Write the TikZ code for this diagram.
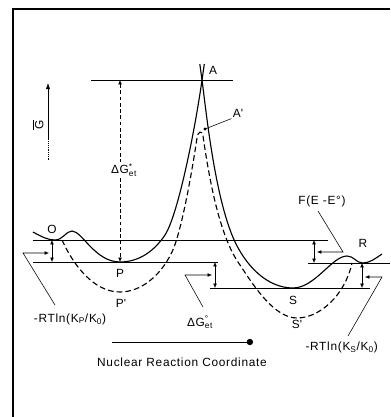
\documentclass[tikz,border=0pt]{standalone}
\usepackage{amsmath}
\usepackage{fontspec}
\setmainfont{Liberation Sans}[LetterSpace=6]
\usetikzlibrary{arrows.meta, positioning, calc}
\tikzset{
  curve/.style   = {line width=0.9pt},
  shifted/.style = {line width=0.9pt, dash pattern=on 4.5pt off 2.5pt},
  level/.style   = {line width=0.45pt},
  gap/.style     = {{Latex[length=3.5pt,width=3pt]}-{Latex[length=3.5pt,width=3pt]},
                    line width=0.45pt},
  pointer/.style = {-{Latex[length=3.5pt,width=3pt]}, line width=0.45pt},
  lbl/.style     = {font=\fontsize{9.5}{11}\selectfont, inner sep=1pt},
}

\begin{document}
\begin{tikzpicture}[x=0.8pt, y=-0.8pt]
  \useasboundingbox (0,0) rectangle (390,417);
  % frame
  \draw[line width=1.3pt] (13,417) -- (13,9) -- (390,9);

  % free energy axis
  \coordinate (g0) at (48,160);
  \coordinate (g1) at (48,138);
  \coordinate (g2) at (48,83);
  \draw[level, densely dotted] (g0) -- (g1);
  \draw[level, -{Latex[length=5pt,width=3.5pt]}] (g1) -- (g2);
  \node[lbl, rotate=90] (gbar) at (38,125) {$\overline{\text{G}}$};

  % energy levels
  \draw[level] (91,80)  coordinate (aL) -- (233,80)  coordinate (aR);
  \draw[level] (33,240) coordinate (oL) -- (328,240) coordinate (oR);
  \draw[level] (33,262) coordinate (pL) -- (218,262) coordinate (pR);
  \draw[level] (308,263) coordinate (rL) -- (390,263) coordinate (rR);
  \draw[level] (210,288) coordinate (sL) -- (370,288) coordinate (sR);

  % solid surface: O -> P -> A
  \draw[curve] (33,232) .. controls (42,237) and (48,240) .. (55,240)
    coordinate (O)
    .. controls (63,240) and (66,231) .. (72,231)
    .. controls (82,231) and (95,262) .. (120,262) coordinate (P)
    .. controls (140,262) and (155,250) .. (165,235)
    .. controls (178,215) and (195,130) .. (202,80) coordinate (A)
    -- (204.3,64);
  % solid surface: A -> S -> R
  \draw[curve] (199.8,64) -- (A)
    .. controls (206,110) and (214,190) .. (232,235)
    .. controls (245,267) and (268,288) .. (293,288) coordinate (S)
    .. controls (315,288) and (332,256) .. (347,256)
    .. controls (354,256) and (356,263) .. (363,263) coordinate (R)
    .. controls (370,263) and (376,258) .. (382,254);

  % shifted surface P' -> A' -> S'
  \draw[shifted] (62,240) .. controls (72,262) and (92,292) .. (120,292)
    coordinate (P')
    .. controls (140,292) and (160,277) .. (172,252)
    .. controls (182,231) and (193,165) .. (197,138)
    .. controls (198,131) and (202,130) .. (203,136) coordinate (A')
    .. controls (208,170) and (218,235) .. (240,265)
    .. controls (255,288) and (275,318) .. (297,318) coordinate (S')
    .. controls (320,318) and (345,295) .. (352,263);

  % point labels
  \node[lbl] (lO)  at (52,229)  {O};
  \node[lbl] (lP)  at (120,273) {P};
  \node[lbl] (lP') at (121,303) {P\textquotesingle};
  \node[lbl] (lS)  at (293,300) {S};
  \node[lbl] (lS') at (297,324) {S\textquotesingle};
  \node[lbl] (lR)  at (363,243) {R};
  \node[lbl] (lA)  at (213,70)  {A};
  \node[lbl] (lA') at (238,113) {A\textquotesingle};
  \fill (205,129) circle (1.6) coordinate (dot);
  \draw[level] (dot) -- (lA'.south west);

  % activation barrier
  \draw[gap, densely dashed] (120,80) -- (P);
  \node[lbl, fill=white] (dGa) at (124,170)
    {ΔG$^{\text{*}}_{\text{et}}$};

  % O -> P shift
  \draw[gap] (52,240) -- (52,262);
  \node[lbl] (kp) at (70,319)
    {-RTln(K\textsubscript{P}/K\textsubscript{0})};
  \coordinate (kpA) at (55,305);
  \coordinate (kpB) at (23,253);
  \draw[pointer] (kpA) -- (kpB) -- (49,253);

  % P -> S driving force
  \draw[gap] (215,262) -- (215,288);
  \node[lbl] (dGo) at (200,322)
    {ΔG$^{\text{°}}_{\text{et}}$};
  \coordinate (goA) at (203,307);
  \coordinate (goB) at (185,275);
  \draw[pointer] (goA) -- (goB) -- (212,275);

  % potential
  \draw[gap] (314,240) -- (314,263);
  \node[lbl] (fe) at (322,201) {F(E -E°)};
  \coordinate (feA) at (318,211);
  \coordinate (feB) at (343,252);
  \draw[pointer] (feA) -- (feB) -- (317,252);

  % R -> S shift
  \draw[gap] (362,263) -- (362,288);
  \node[lbl, anchor=west] (ks) at (304,347)
    {-RTln(K\textsubscript{S}/K\textsubscript{0})};
  \coordinate (ksA) at (348,336);
  \coordinate (ksB) at (382,277);
  \draw[pointer] (ksA) -- (ksB) -- (365,277);

  % reaction coordinate
  \coordinate (rc0) at (112,342);
  \coordinate (rc1) at (253,342);
  \draw[line width=0.6pt, -{Circle[length=5pt]}] (rc0) -- (rc1);
  \node[lbl] (rc) at (182,362) {Nuclear Reaction Coordinate};
\end{tikzpicture}
\end{document}
